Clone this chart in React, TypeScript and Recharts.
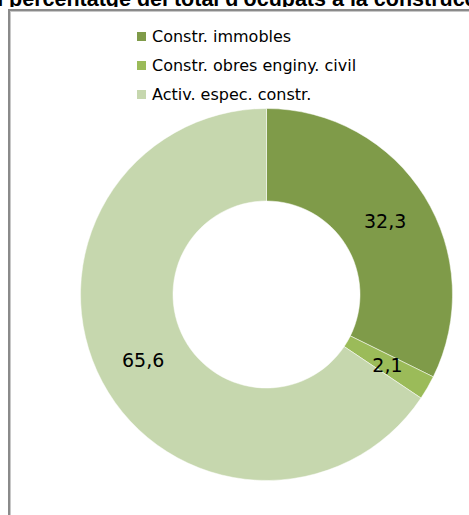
import { PieChart, Pie, Cell, Legend } from 'recharts'

const categories = ['Constr. immobles', 'Constr. obres enginy. civil', 'Activ. espec. constr.']
const values = [32.3, 2.1, 65.6]
const colors = ['#7f9b49', '#9bbb59', '#c6d7ae']
const title = "en percentatge del total d'ocupats a la construcció"

const data = categories.map((name, i) => ({ name, value: values[i] }))

const RADIAN = Math.PI / 180

type LabelArg = {
  cx: number
  cy: number
  midAngle: number
  innerRadius: number
  outerRadius: number
  value: number
}

const renderLabel = ({ cx, cy, midAngle, innerRadius, outerRadius, value }: LabelArg) => {
  const r = (innerRadius + outerRadius) / 2
  const x = cx + r * Math.cos(-midAngle * RADIAN)
  const y = cy + r * Math.sin(-midAngle * RADIAN)
  return (
    <text
      x={x}
      y={y}
      fill='#000'
      textAnchor='middle'
      dominantBaseline='central'
      style={{ fontFamily: 'DejaVu Sans', fontSize: 19 }}
    >
      {value.toFixed(1).replace('.', ',')}
    </text>
  )
}

const renderLegend = () => (
  <div style={{ fontFamily: 'DejaVu Sans', fontSize: 16, color: '#000' }}>
    {data.map((d, i) => (
      <div key={d.name} style={{ display: 'flex', alignItems: 'center', height: 29 }}>
        <span style={{ width: 9, height: 9, background: colors[i], marginRight: 6, display: 'inline-block' }} />
        <span>{d.name}</span>
      </div>
    ))}
  </div>
)

export default function App() {
  return (
    <div style={{ position: 'absolute', left: 0, top: 0, width: 469, height: 515, overflow: 'hidden', background: '#fff' }}>
      <div
        style={{
          position: 'absolute',
          left: 8,
          top: 9,
          width: 480,
          height: 520,
          borderLeft: '2px solid #8a8a8a',
          borderTop: '2px solid #8a8a8a',
          boxShadow: 'inset 1px 1px 0 #c8c8c8',
        }}
      />
      <svg style={{ position: 'absolute', left: 0, top: 0 }} width={469} height={7}>
        <text
          x={-22}
          y={6}
          style={{ fontFamily: 'Liberation Sans', fontWeight: 'bold', fontSize: 21.5 }}
          fill='#000'
        >
          {title}
        </text>
      </svg>
      <div style={{ position: 'absolute', left: 0, top: 0 }}>
        <PieChart width={469} height={515} margin={{ top: 0, right: 0, bottom: 0, left: 0 }}>
          <Legend
            content={renderLegend}
            wrapperStyle={{ position: 'absolute', left: 137, top: 22, width: 300 }}
          />
          <Pie
            data={data}
            dataKey='value'
            cx={266.5}
            cy={294.5}
            innerRadius={93.5}
            outerRadius={186}
            startAngle={90}
            endAngle={-270}
            stroke='#fff'
            strokeWidth={0.5}
            label={renderLabel}
            labelLine={false}
            isAnimationActive={false}
          >
            {data.map((d, i) => (
              <Cell key={d.name} fill={colors[i]} />
            ))}
          </Pie>
        </PieChart>
      </div>
    </div>
  )
}
